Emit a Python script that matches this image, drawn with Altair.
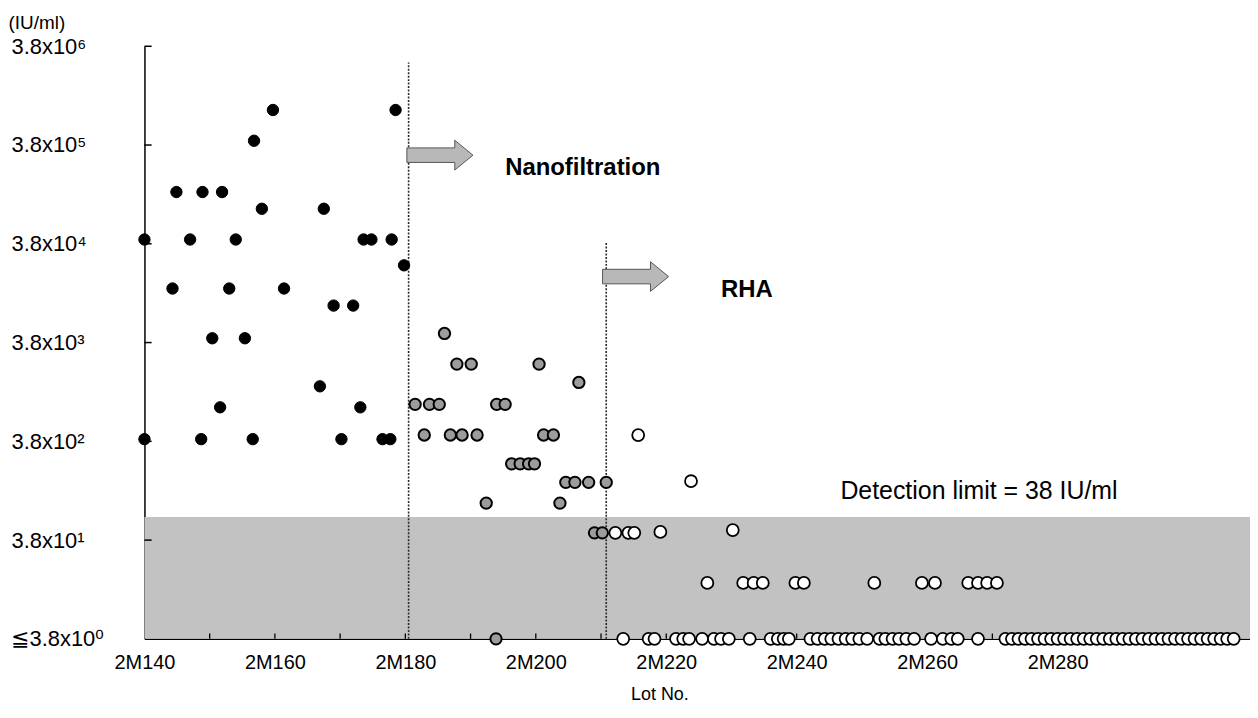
import altair as alt
import pandas as pd

# ---------------- data ----------------
black_lot = [140.0, 140.0, 144.3, 144.9, 147.0, 148.7, 148.9, 150.4, 151.6, 151.9,
             153.0, 154.0, 155.4, 156.6, 156.8, 158.0, 159.7, 161.4, 166.9, 167.5,
             169.0, 170.2, 172.0, 173.1, 173.6, 174.8, 176.5, 177.7, 177.9, 178.5, 179.8]
black_val = [4.2e4, 400, 1.34e4, 1.27e5, 4.2e4, 400, 1.27e5, 4.2e3, 840, 1.27e5,
             1.34e4, 4.2e4, 4.2e3, 400, 4.2e5, 8.6e4, 8.6e5, 1.34e4, 1.37e3, 8.6e4,
             9.0e3, 400, 9.0e3, 840, 4.2e4, 4.2e4, 400, 400, 4.2e4, 8.6e5, 2.3e4]

grey_lot = [186.0, 187.9, 190.1, 200.5, 206.6,
            181.5, 183.7, 185.2, 194.0, 195.3,
            182.9, 186.9, 188.7, 191.0, 201.2, 202.7,
            196.3, 197.6, 198.9, 199.8,
            204.6, 206.0, 208.1, 210.8,
            192.4, 203.7, 209.0, 210.2, 193.9]
grey_val = [4.7e3, 2.3e3, 2.3e3, 2.3e3, 1.5e3,
            900, 900, 900, 900, 900,
            440, 440, 440, 440, 440, 440,
            225, 225, 225, 225,
            146, 146, 146, 146,
            90, 90, 45, 45, 3.8]

open_lot = [215.7, 223.8, 212.2, 214.2, 215.1, 219.1, 230.2,
            226.3, 231.8, 233.4, 234.8, 239.8, 241.1, 251.9, 259.2, 261.2,
            266.3, 267.8, 269.2, 270.7]
open_val = [440, 150, 45, 45, 45, 46, 48,
            14, 14, 14, 14, 14, 14, 14, 14, 14,
            14, 14, 14, 14]

bottom_lot = [213.4, 217.3, 218.2, 221.5, 222.6, 223.5, 225.5, 227.3, 228.4, 229.6,
              232.8, 236.0, 237.1, 238.0, 238.8, 242.1, 243.2, 244.3, 245.3, 246.4,
              247.5, 248.5, 249.6, 250.8, 252.7, 253.6, 254.7, 255.7, 256.8, 258.0,
              260.6, 262.4, 263.7, 264.7, 267.8,
              272, 273, 274, 275, 276, 277, 278, 279, 280, 281, 282, 283, 284, 285,
              286, 287, 288, 289, 290, 291, 292, 293, 294, 295, 296, 297, 298, 299,
              300, 301, 302, 303, 304, 305, 306, 307]
bottom_val = [3.8] * len(bottom_lot)

y_tick_vals = [3.8, 38, 380, 3800, 38000, 380000, 3800000]
y_tick_labels = ["≦3.8x10⁰", "3.8x10¹", "3.8x10²", "3.8x10³", "3.8x10⁴", "3.8x10⁵", "3.8x10⁶"]
x_label_vals = [140, 160, 180, 200, 220, 240, 260, 280]
x_minor_vals = [150, 160, 170, 180, 190, 200, 210, 220, 230, 240, 250, 260, 270, 280, 290, 300]

shade_lot = [140]
shade_lot2 = [309.5]
shade_val = [3.8]
shade_val2 = [65]

vline_lot = [180.5, 210.8]
vline_bottom = [3.8, 3.8]
vline_top = [2.6e6, 3.9e4]

arrow_lot = [185.3, 215.3]
arrow_val = [3.0e5, 1.77e4]

bold_text = ["Nanofiltration", "RHA"]
bold_lot = [195.3, 228.4]
bold_val = [2.2e5, 1.3e4]
plain_text = ["Detection limit = 38 IU/ml"]
plain_lot = [246.7]
plain_val = [119]

# ---------------- chart ----------------
FONT = "Liberation Sans"
xs = alt.Scale(domain=[140, 309.5], nice=False, zero=False)
ys = alt.Scale(type="log", domain=[3.8, 3.8e6], nice=False)

label_expr = "[" + ",".join("'" + s + "'" for s in y_tick_labels) + "][round(log(datum.value/3.8)/LN10)]"

x_axis = alt.Axis(values=x_label_vals, labelExpr="'2M' + datum.value", ticks=False,
                  domain=True, domainColor="black", domainWidth=1.5, grid=False,
                  labelFontSize=20, labelFont=FONT, labelColor="black", labelPadding=14,
                  labelFlush=False, labelOverlap=False,
                  title="Lot No.", titleFont=FONT, titleFontSize=18, titleFontWeight="normal",
                  titleColor="black", titleX=517, titleY=56, titleAlign="center",
                  titleBaseline="middle")
y_axis = alt.Axis(values=y_tick_vals, labelExpr=label_expr, ticks=False,
                  domain=True, domainColor="black", domainWidth=1.5, grid=False,
                  labelFontSize=22, labelFont=FONT, labelColor="black",
                  labelAlign="left", labelPadding=134, labelBaseline="middle",
                  labelOverlap=False, labelFlush=False,
                  title="(IU/ml)", titleFont=FONT, titleFontSize=19, titleFontWeight="normal",
                  titleColor="black", titleAngle=0, titleAlign="left", titleX=-137, titleY=-24,
                  titleBaseline="middle")

X = alt.X("lot:Q", scale=xs, axis=x_axis)
Y = alt.Y("val:Q", scale=ys, axis=y_axis)

shade_df = pd.DataFrame({"lot": shade_lot, "lot2": shade_lot2, "val": shade_val, "val2": shade_val2})
shade = alt.Chart(shade_df).mark_rect(fill="#c2c2c2", stroke=None).encode(
    x=X, x2="lot2:Q", y=Y, y2="val2:Q")

vl_df = pd.DataFrame({"lot": vline_lot, "val": vline_bottom, "val2": vline_top})
vlines = alt.Chart(vl_df).mark_rule(color="#2a2a2a", strokeWidth=1.6, strokeDash=[2, 1.5]).encode(
    x=X, y=Y, y2="val2:Q")

arrow_shape = "M -1 -0.22 L 0.45 -0.22 L 0.45 -0.45 L 1 0 L 0.45 0.45 L 0.45 0.22 L -1 0.22 Z"
ar_df = pd.DataFrame({"lot": arrow_lot, "val": arrow_val})
arrows = alt.Chart(ar_df).mark_point(shape=arrow_shape, size=4400, filled=True, fill="#b8b8b8",
                                     stroke="#555555", strokeWidth=1, opacity=1).encode(x=X, y=Y)

ytk_df = pd.DataFrame({"lot": [140] * 5, "lot2": [141.1] * 5, "val": y_tick_vals[1:6]})
yticks = alt.Chart(ytk_df).mark_rule(color="black", strokeWidth=1.5).encode(x=X, x2="lot2:Q", y=Y)

xtk_df = pd.DataFrame({"lot": x_minor_vals, "val": [3.8] * len(x_minor_vals), "val2": [4.3] * len(x_minor_vals)})
xticks = alt.Chart(xtk_df).mark_rule(color="black", strokeWidth=1.3).encode(x=X, y=Y, y2="val2:Q")

top_df = pd.DataFrame({"lot": [140], "lot2": [141.1], "val": [3.8e6]})
topbr = alt.Chart(top_df).mark_rule(color="black", strokeWidth=1.5).encode(x=X, x2="lot2:Q", y=Y)

b_df = pd.DataFrame({"lot": black_lot, "val": black_val})
black = alt.Chart(b_df).mark_point(shape="circle", filled=True, fill="black", stroke="black",
                                   strokeWidth=1, size=130, opacity=1).encode(x=X, y=Y)

g_df = pd.DataFrame({"lot": grey_lot, "val": grey_val})
grey = alt.Chart(g_df).mark_point(shape="circle", filled=True, fill="#9c9c9c", stroke="black",
                                  strokeWidth=2, size=130, opacity=1).encode(x=X, y=Y)

o_df = pd.DataFrame({"lot": open_lot + bottom_lot, "val": open_val + bottom_val})
opn = alt.Chart(o_df).mark_point(shape="circle", filled=True, fill="white", stroke="black",
                                 strokeWidth=1.8, size=144, opacity=1).encode(x=X, y=Y)

bt_df = pd.DataFrame({"lot": bold_lot, "val": bold_val, "t": bold_text})
btext = alt.Chart(bt_df).mark_text(align="left", baseline="middle", font=FONT, fontSize=24,
                                   fontWeight="bold", color="black").encode(x=X, y=Y, text="t:N")

pt_df = pd.DataFrame({"lot": plain_lot, "val": plain_val, "t": plain_text})
ptext = alt.Chart(pt_df).mark_text(align="left", baseline="middle", font=FONT, fontSize=25,
                                   color="black").encode(x=X, y=Y, text="t:N")

chart = alt.layer(shade, vlines, arrows, yticks, xticks, topbr, black, grey, opn, btext, ptext).properties(
    width=1110, height=595,
    autosize=alt.AutoSizeParams(type="none"),
    padding={"left": 137, "top": 37, "right": 0, "bottom": 70},
    background="white",
).configure_view(stroke=None)

chart.save("out.html", embed_options={"renderer": "svg", "actions": False})
